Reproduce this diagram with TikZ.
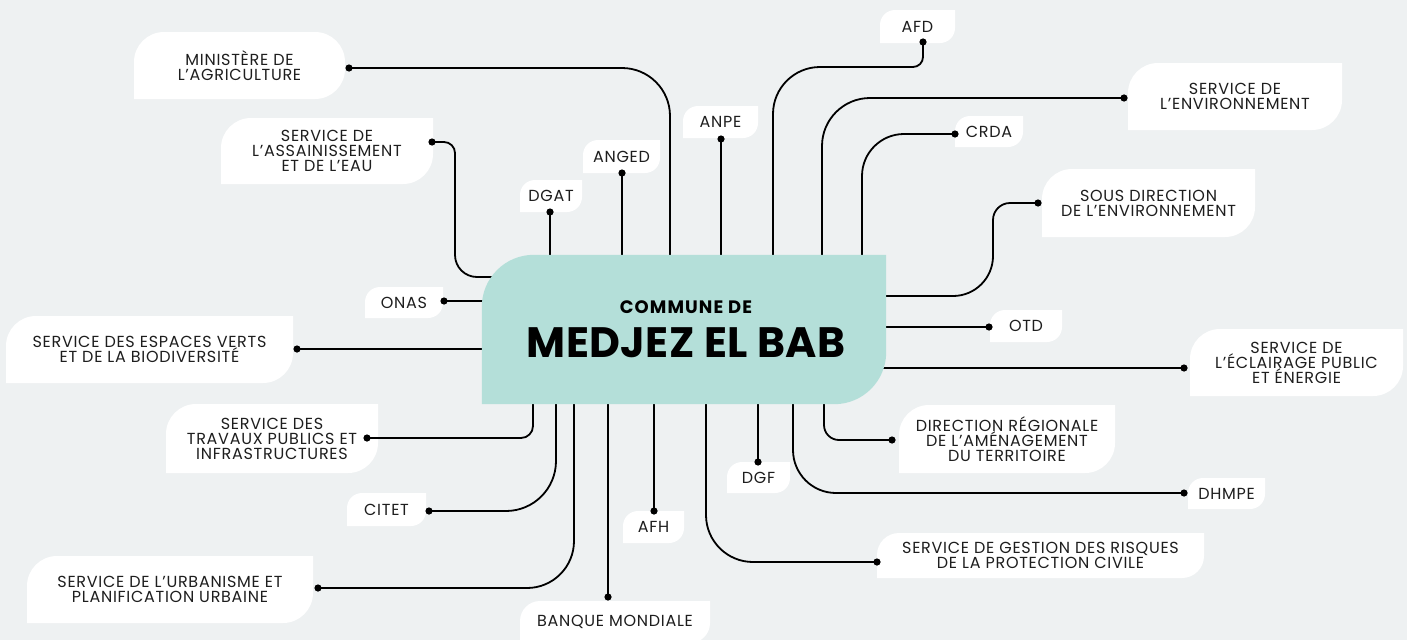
\documentclass[tikz,border=0pt]{standalone}
\usepackage{fontspec}
\setmainfont{Poppins}
\newfontfamily\lblfont{Poppins}[LetterSpace=4.5]
\newfontfamily\ttlfont{Poppins}[LetterSpace=6]
\newfontfamily\bigfont{Poppins}[LetterSpace=1]
\definecolor{bgc}{RGB}{238,241,242}
\definecolor{ctr}{RGB}{180,223,217}
\definecolor{ink}{RGB}{30,30,30}
\tikzset{
  conn/.style={line width=1.8pt, black},
  lbl/.style={font=\lblfont\fontsize{16}{15}\selectfont, text=ink, align=center, inner sep=0pt},
}
\newcommand\LBox[7]{%
  \fill[white] (#2,-#5) -- (#2,-#3-#6) arc[start angle=180,end angle=90,radius=#6] -- (#4,-#3) -- (#4,-#5+#6) arc[start angle=0,end angle=-90,radius=#6] -- cycle;
  \node[lbl] (#1) at ({(#2+#4)/2},{-(#3+#5)/2}) {#7};}
\newcommand\DotAt[3]{\coordinate (#1) at (#2,-#3);}
\begin{document}
\begin{tikzpicture}[x=1pt,y=1pt]
\fill[bgc] (0,0) rectangle (1407,-640);
\useasboundingbox (0,0) rectangle (1407,-640);
% central box placeholder
\node[minimum width=404pt, minimum height=149pt, inner sep=0pt] (c) at (684,-329.5) {};
% label boxes
\fill[white] (134,-99) -- (134,-62) arc[start angle=180,end angle=90,radius=30] -- (315,-32) arc[start angle=90,end angle=0,radius=30] -- (345,-69) arc[start angle=0,end angle=-90,radius=30] -- cycle;
\node[lbl] (agri) at (239.5,-65.5) {MINISTÈRE DE\\L’AGRICULTURE};
\LBox{assain}{221}{118}{433}{184}{30}{SERVICE DE\\L’ASSAINISSEMENT\\ET DE L’EAU}
\LBox{dgat}{520}{180}{582}{212}{15}{DGAT}
\LBox{anged}{583}{140}{660}{173}{15}{ANGED}
\LBox{anpe}{683}{106}{758}{138}{15}{ANPE}
\LBox{afd}{880}{10}{955}{43}{15}{AFD}
\LBox{env}{1128}{63}{1342}{130}{30}{SERVICE DE\\L’ENVIRONNEMENT}
\LBox{crda}{955}{116}{1023}{147}{15}{CRDA}
\LBox{sousdir}{1042}{169}{1255}{237}{30}{SOUS DIRECTION\\DE L’ENVIRONNEMENT}
\LBox{otd}{990}{310}{1062}{342}{15}{OTD}
\LBox{eclair}{1190}{329}{1403}{396}{30}{SERVICE DE\\L’ÉCLAIRAGE PUBLIC\\ET ÉNERGIE}
\LBox{dir}{899}{405}{1115}{473}{30}{DIRECTION RÉGIONALE\\DE L’AMÉNAGEMENT\\DU TERRITOIRE}
\LBox{dhmpe}{1188}{478}{1265}{509}{15}{DHMPE}
\LBox{risques}{877}{533}{1204}{578}{22}{SERVICE DE GESTION DES RISQUES\\DE LA PROTECTION CIVILE}
\LBox{dgf}{727}{462}{790}{493}{15}{DGF}
\LBox{afh}{623}{511}{684}{543}{15}{AFH}
\LBox{banque}{520}{601}{710}{643}{20}{BANQUE MONDIALE}
\LBox{urban}{27}{556}{313}{623}{30}{SERVICE DE L’URBANISME ET\\PLANIFICATION URBAINE}
\LBox{citet}{347}{493}{426}{526}{15}{CITET}
\LBox{travaux}{166}{404}{378}{473}{30}{SERVICE DES\\TRAVAUX PUBLICS ET\\INFRASTRUCTURES}
\LBox{espaces}{6}{316}{293}{383}{30}{SERVICE DES ESPACES VERTS\\ET DE LA BIODIVERSITÉ}
\LBox{onas}{365}{287}{443}{318}{15}{ONAS}
% dot coordinates
\DotAt{d-agri}{349}{68}
\DotAt{d-assain}{432}{142}
\DotAt{d-dgat}{550}{212}
\DotAt{d-anged}{622}{173}
\DotAt{d-anpe}{721}{139}
\DotAt{d-afd}{923}{42}
\DotAt{d-env}{1124}{98}
\DotAt{d-crda}{955}{134}
\DotAt{d-sousdir}{1038}{203}
\DotAt{d-otd}{989}{327}
\DotAt{d-eclair}{1184}{368}
\DotAt{d-dir}{892}{440}
\DotAt{d-dhmpe}{1184}{493}
\DotAt{d-risques}{877}{562}
\DotAt{d-dgf}{758}{462}
\DotAt{d-afh}{654}{511}
\DotAt{d-banque}{608}{597}
\DotAt{d-urban}{318}{588}
\DotAt{d-citet}{429}{511}
\DotAt{d-travaux}{367}{438}
\DotAt{d-espaces}{297}{349}
\DotAt{d-onas}{444}{301}
% connectors
\draw[conn, rounded corners=48] (d-agri) -| ([xshift=-14pt]c.center);
\draw[conn, rounded corners=11] (d-assain) -| (455,-220);
\draw[conn, rounded corners=22] (455,-210) |- ([yshift=52.5pt]c.center);
\draw[conn] (d-dgat) -- (d-dgat |- c.center);
\draw[conn] (d-anged) -- (d-anged |- c.center);
\draw[conn] (d-anpe) -- (d-anpe |- c.center);
\draw[conn, rounded corners=10] (d-afd) |- (850,-67);
\draw[conn, rounded corners=47] (860,-67) -| ([xshift=89pt]c.center);
\draw[conn, rounded corners=48] (d-env) -| ([xshift=138pt]c.center);
\draw[conn, rounded corners=42] (d-crda) -| ([xshift=178pt]c.center);
\draw[conn, rounded corners=17] (d-sousdir) -| (993,-240);
\draw[conn, rounded corners=40] (993,-230) |- ([yshift=33.5pt]c.center);
\draw[conn] (d-otd) -- (d-otd -| c.center);
\draw[conn] (d-eclair) -- (d-eclair -| c.center);
\draw[conn, rounded corners=15] ([xshift=140pt]c.center) |- (d-dir);
\draw[conn, rounded corners=43] ([xshift=109pt]c.center) |- (d-dhmpe);
\draw[conn, rounded corners=47] ([xshift=22pt]c.center) |- (d-risques);
\draw[conn] (d-dgf) -- (d-dgf |- c.center);
\draw[conn] (d-afh) -- (d-afh |- c.center);
\draw[conn] (d-banque) -- (d-banque |- c.center);
\draw[conn, rounded corners=47] (d-urban) -| ([xshift=-110pt]c.center);
\draw[conn, rounded corners=50] (d-citet) -| ([xshift=-128pt]c.center);
\draw[conn, rounded corners=12] (d-travaux) -| ([xshift=-151pt]c.center);
\draw[conn] (d-espaces) -- (d-espaces -| c.center);
\draw[conn] (d-onas) -- (d-onas -| c.center);
% central box fill
\fill[ctr] (c.south west) -- ([yshift=-52pt]c.north west) arc[start angle=180,end angle=90,radius=52] -- (c.north east) -- ([yshift=52pt]c.south east) arc[start angle=0,end angle=-90,radius=52] -- cycle;
\node[font=\ttlfont\bfseries\fontsize{18}{18}\selectfont, anchor=base, inner sep=0pt] (t1) at (686,-313) {COMMUNE DE};
\node[font=\bigfont\bfseries\fontsize{42.5}{42.5}\selectfont, anchor=base, inner sep=0pt] (t2) at (686,-357) {MEDJEZ EL BAB};
% dots
\foreach \d in {agri,assain,dgat,anged,anpe,afd,env,crda,sousdir,otd,eclair,dir,dhmpe,risques,dgf,afh,banque,urban,citet,travaux,espaces,onas}
  \fill (d-\d) circle[radius=3.6];
\end{tikzpicture}
\end{document}
